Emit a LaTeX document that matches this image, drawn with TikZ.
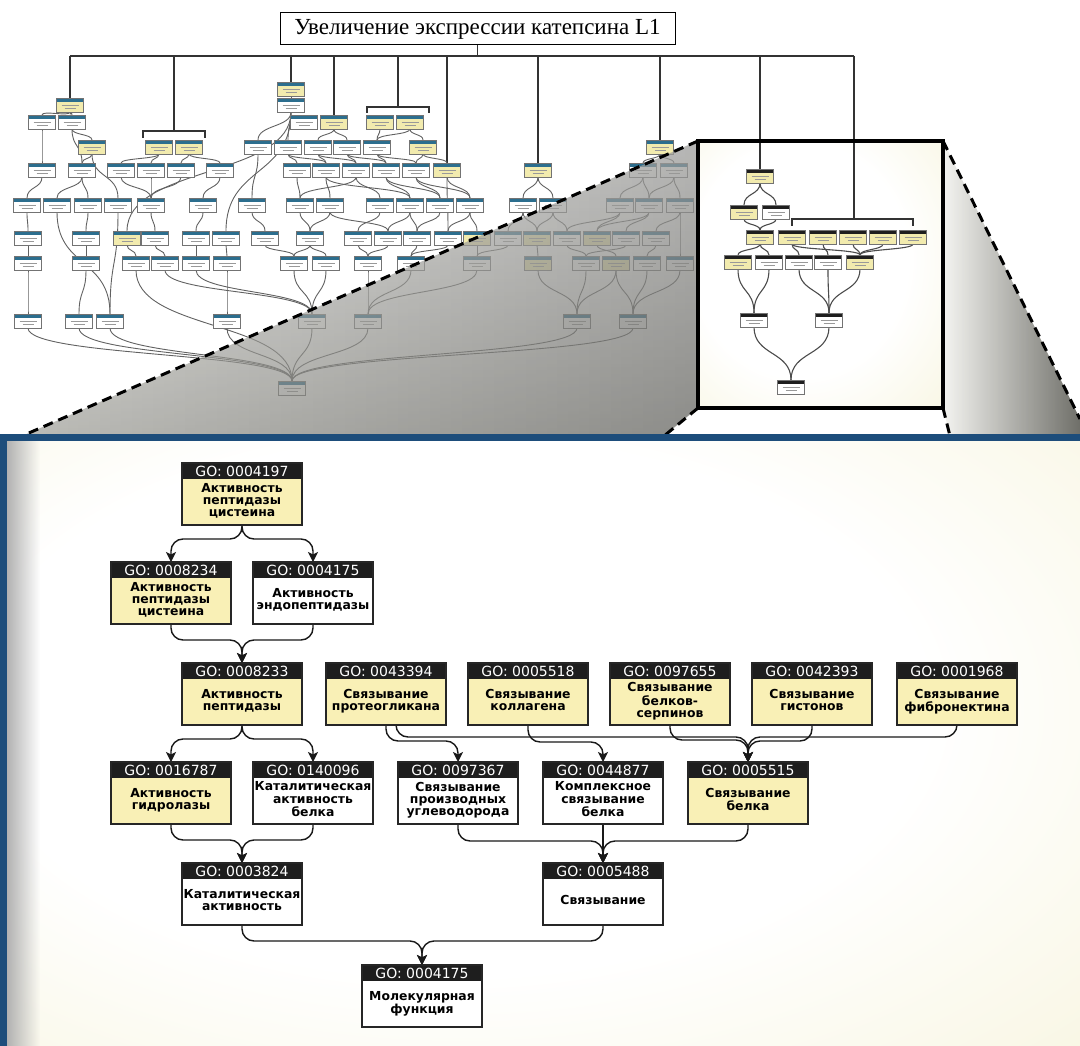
\documentclass[tikz,border=0pt]{standalone}
\usepackage{fontspec}
\setmainfont{Liberation Serif}
\newfontfamily\dvs{DejaVu Sans}
\usetikzlibrary{arrows.meta,calc,fadings}
\pgfdeclarelayer{back}
\pgfdeclarelayer{edges}
\pgfdeclarelayer{front}
\pgfsetlayers{back,edges,main,front}

\definecolor{ylw}{HTML}{F9F0B6}
\definecolor{oyl}{HTML}{F2EBAE}
\definecolor{hdr}{HTML}{1E1E1E}
\definecolor{frame}{HTML}{1D4D7B}
\definecolor{oblue}{HTML}{2C6E8E}
\definecolor{creamA}{HTML}{F9F7E6}
\definecolor{creamB}{HTML}{F0EAC6}
\definecolor{grayT}{HTML}{EDEDEA}
\definecolor{grayB}{HTML}{96968F}
\definecolor{grayRa}{HTML}{F2F2EE}
\definecolor{grayRb}{HTML}{56564F}

\pgfdeclareradialshading{panel}{\pgfpoint{-6bp}{4bp}}{color(0bp)=(white); color(22bp)=(white); color(38bp)=(creamA); color(50bp)=(creamB); color(70bp)=(creamB)}

\def\tnhc{oblue}
\newcommand\gocont[2]{\vbox to 62pt{\hsize=120pt
  \vbox to 16pt{\vss\hbox to 120pt{\hss\color{white}\dvs\fontsize{14}{14}\selectfont #1\hss}\vss}\nointerlineskip
  \vbox to 46pt{\vss\hbox to 120pt{\hss\dvs\bfseries\fontsize{12.4}{12.2}\selectfont\def\arraystretch{1}\begin{tabular}{@{}c@{}}#2\end{tabular}\hss}\vss}}}
\newcommand\gonode[6]{\node[gobox,fill=#4] (#1) at (#2,#3) {\gocont{#5}{#6}};}
\newcommand\medge[3]{\draw[mc] (#1.south) |- (#2.north |- 0,#3) -- (#2.north);}
\newcommand\medgex[4]{\draw[mc] ([xshift=#4]#1.south) |- (#2.north |- 0,#3) -- (#2.north);}
\newcommand\cedge[3][oc]{\draw[#1] let \p1=(#2.south), \p2=(#3.north), \n1={max(0.55*abs(\y1-\y2),5)} in (\p1) .. controls ($(\p1)+(0pt,-\n1)$) and ($(\p2)+(0pt,\n1)$) .. (\p2);}

\tikzset{
 tn/.style={draw=black!55, line width=0.5pt, fill=white, minimum width=27pt, minimum height=14pt, inner sep=0pt, outer sep=0pt,
  path picture={\fill[\tnhc] (path picture bounding box.north west) rectangle ([yshift=-3.8pt]path picture bounding box.north east);
   \draw[black!40, line width=0.8pt] ([xshift=5pt,yshift=-7pt]path picture bounding box.north west) -- ([xshift=-5pt,yshift=-7pt]path picture bounding box.north east);
   \draw[black!40, line width=0.8pt] ([xshift=8pt,yshift=-10.5pt]path picture bounding box.north west) -- ([xshift=-8pt,yshift=-10.5pt]path picture bounding box.north east);}},
 ty/.style={tn, fill=oyl},
 gobox/.style={draw=black!85, line width=1.5pt, minimum width=120pt, minimum height=62pt, inner sep=0pt, outer sep=0pt,
  path picture={\fill[hdr] (path picture bounding box.north west) rectangle ([yshift=-16pt]path picture bounding box.north east);}},
 mc/.style={draw=black!90, line width=1.4pt, rounded corners=12pt, -{Stealth[length=10pt,width=10pt,inset=2.5pt]}},
 oc/.style={draw=black!62, line width=0.9pt},
 ic/.style={draw=black!70, line width=1.1pt},
 bus/.style={draw=black!80, line width=1.1pt},
 dsh/.style={draw=black, line width=3pt, dash pattern=on 10pt off 6pt},
}

\begin{document}
\begin{tikzpicture}[x=1pt,y=-1pt]
\useasboundingbox (0,0) rectangle (1080,1046);

% ---------- key coordinates ----------
\coordinate (inTL) at (698,141);
\coordinate (inTR) at (943,141);
\coordinate (inBL) at (698,408);
\coordinate (inBR) at (943,408);
\coordinate (dL) at (22,436);
\coordinate (dBL) at (664,436);
\coordinate (dR) at (1080,419);
\coordinate (dRb) at (1080,436);
\coordinate (dBR) at (950,436);
\coordinate (busL) at (70,56);
\coordinate (busR) at (854,56);
\coordinate (brB) at (174,131);
\coordinate (brD) at (398,107);
\coordinate (brI) at (854,219);

% ---------- backgrounds ----------
\begin{pgfonlayer}{back}
\shade[shading=panel] (0,434) rectangle (1080,1046);
\fill[black!30, path fading=east] (7,441) rectangle (40,1046);
\shade[shading=panel] (inTL) rectangle (inBR);
\end{pgfonlayer}

% ---------- title ----------
\node[draw=black, line width=1pt, minimum width=395pt, minimum height=32pt, inner sep=0pt, font=\fontsize{23}{23}\selectfont] (title) at (477.5,29) {Увеличение экспрессии катепсина L1};

% ---------- overview nodes ----------
\node[ty] (c1) at (291,89) {};
\node[ty] (a1) at (70,105) {};
\node[tn] (c2) at (291,105) {};
\node[tn] (a2) at (42,122) {};
\node[tn] (a3) at (72,122) {};
\node[tn] (c3) at (304,122) {};
\node[ty] (c4) at (334,122) {};
\node[ty] (d1) at (380,122) {};
\node[ty] (d2) at (410,122) {};
\node[ty] (a4) at (92,147) {};
\node[ty] (b1) at (159,147) {};
\node[ty] (b2) at (189,147) {};
\node[tn] (c5) at (258,147) {};
\node[tn] (c6) at (288,147) {};
\node[tn] (c7) at (318,147) {};
\node[tn] (c8) at (347,147) {};
\node[tn] (c9) at (377,147) {};
\node[ty] (c10) at (423,147) {};
\node[ty] (f1) at (660,147) {};
\foreach \n/\x in {p1/42,p2/82,p3/121,p4/151,p5/181,p6/220,p7/297,p8/326,p9/356,p10/386,p11/416,f2/643,f3/674}
  \node[tn] (\n) at (\x,170) {};
\node[ty] (p12) at (447,170) {};
\node[ty] (e1) at (538,170) {};
\foreach \n/\x in {q1/27,q2/57,q3/88,q4/118,q5/151,q6/203,q7/252,q8/300,q9/330,q10/380,q11/410,q12/440,q13/470,e2/523,e3/553,f4/620,f5/649,f6/680}
  \node[tn] (\n) at (\x,205) {};
\foreach \n/\x in {s1/28,s2/86,s4/155,s5/196,s6/226,s7/265,s8/310,s9/358,s10/388,s11/417,s12/448,s14/508,s16/567,s18/626,s19/656}
  \node[tn] (\n) at (\x,238) {};
\foreach \n/\x in {s3/127,s13/477,s15/537,s17/597}
  \node[ty] (\n) at (\x,238) {};
\foreach \n/\x in {t1/28,t2/86,t3/136,t4/165,t5/196,t6/227,t7/294,t8/326,t9/368,t10/411,t11/477,t13/586,t15/647,t16/680}
  \node[tn] (\n) at (\x,263) {};
\foreach \n/\x in {t12/538,t14/616}
  \node[ty] (\n) at (\x,263) {};
\foreach \n/\x in {u1/28,u2/79,u3/110,u4/227,u5/312,u6/368,u7/577,u8/633}
  \node[tn] (\n) at (\x,321) {};
\node[tn] (z) at (292,388) {};

% ---------- inset nodes ----------
\begin{scope}
\def\tnhc{hdr}
\node[ty] (I1) at (760,176) {};
\node[ty] (I2) at (744,212) {};
\node[tn] (I3) at (776,212) {};
\foreach \n/\x in {I4/760,I5/792,I6/823,I7/853,I8/883,I9/913}
  \node[ty] (\n) at (\x,237) {};
\node[ty] (I10) at (738,262) {};
\node[tn] (I11) at (769,262) {};
\node[tn] (I12) at (799,262) {};
\node[tn] (I13) at (828,262) {};
\node[ty] (I14) at (860,262) {};
\node[tn] (I15) at (754,320) {};
\node[tn] (I16) at (829,320) {};
\node[tn] (I17) at (791,387) {};
\end{scope}

% ---------- main nodes ----------
\gonode{n4197}{242}{494}{ylw}{GO: 0004197}{Активность\\пептидазы\\цистеина}
\gonode{n8234}{171}{593}{ylw}{GO: 0008234}{Активность\\пептидазы\\цистеина}
\gonode{n4175a}{313}{593}{white}{GO: 0004175}{Активность\\эндопептидазы}
\gonode{n8233}{242}{694}{ylw}{GO: 0008233}{Активность\\пептидазы}
\gonode{n43394}{386}{694}{ylw}{GO: 0043394}{Связывание\\протеогликана}
\gonode{n5518}{528}{694}{ylw}{GO: 0005518}{Связывание\\коллагена}
\gonode{n97655}{670}{694}{ylw}{GO: 0097655}{Связывание\\белков-\\серпинов}
\gonode{n42393}{812}{694}{ylw}{GO: 0042393}{Связывание\\гистонов}
\gonode{n1968}{957}{694}{ylw}{GO: 0001968}{Связывание\\фибронектина}
\gonode{n16787}{171}{793}{ylw}{GO: 0016787}{Активность\\гидролазы}
\gonode{n140096}{313}{793}{white}{GO: 0140096}{Каталитическая\\активность\\белка}
\gonode{n97367}{458}{793}{white}{GO: 0097367}{Связывание\\производных\\углеводорода}
\gonode{n44877}{603}{793}{white}{GO: 0044877}{Комплексное\\связывание\\белка}
\gonode{n5515}{748}{793}{ylw}{GO: 0005515}{Связывание\\белка}
\gonode{n3824}{242}{894}{white}{GO: 0003824}{Каталитическая\\активность}
\gonode{n5488}{603}{894}{white}{GO: 0005488}{Связывание}
\gonode{nMF}{422}{996}{white}{GO: 0004175}{Молекулярная\\функция}

% ---------- edges ----------
\begin{pgfonlayer}{edges}
% bus
\draw[bus] (title.south) -- (title.south |- busL);
\draw[bus] (busL) -- (busR);
\draw[bus] (a1.north |- busL) -- (a1.north);
\draw[bus] (brB |- busL) -- (brB);
\draw[bus] (143,138) |- (brB) -| (205,138);
\draw[bus] (c1.north |- busL) -- (c1.north);
\draw[bus] (c4.north |- busL) -- (c4.north);
\draw[bus] (brD |- busL) -- (brD);
\draw[bus] (367,113) |- (brD) -| (429,113);
\draw[bus] (p12.north |- busL) -- (p12.north);
\draw[bus] (e1.north |- busL) -- (e1.north);
\draw[bus] (f1.north |- busL) -- (f1.north);
\draw[bus] (I1.north |- busL) -- (I1.north);
\draw[bus] (brI |- busL) -- (brI);
\draw[bus] (I5.north |- 0,226) |- (brI) -| (I9.north |- 0,226);

% overview connectors
\foreach \a/\b in {a1/a2,a1/a3,a2/p1,a3/a4,a3/p2,a4/p2,a4/q4,
  p1/q1,p2/q2,p2/q3,q1/s1,q3/s2,q2/u3,q4/u3,s1/t1,s2/t2,t1/u1,t2/u2,
  b1/p3,b1/p4,b2/p5,b2/p6,p3/q5,p4/q5,p5/q5,p6/q6,q5/s4,q6/s5,s3/t3,s4/t4,s5/t5,s6/t6,t6/u4,
  c1/c2,c2/c5,c2/c6,c2/s6,c2/s3,c4/c7,c4/c8,d1/c9,d2/c9,d2/c10,c5/q7,c6/p7,c6/p8,c7/p8,c7/p9,c8/p9,c8/p10,c9/p10,c9/p11,c10/p11,c10/p12,
  p7/q8,p8/q9,p8/q11,p9/q8,p9/q10,p10/q11,p10/q12,p11/q12,p11/q13,p12/q13,p12/s12,
  q7/s7,q8/s8,q9/s8,q9/s10,q10/s9,q11/s10,q11/s11,q12/s11,q13/s12,q13/s13,
  s7/t7,s8/t7,s8/t8,s9/t9,s10/t9,s11/t10,s12/t10,s13/t11,s14/t11,
  t3/z,t4/u5,t5/u5,t7/u5,t8/u5,t9/u6,t10/u6,t11/u6,
  u1/z,u2/z,u3/z,u4/z,u5/z,u6/z,u7/z,u8/z,
  e1/e2,e1/e3,e2/s14,e2/s15,e3/s15,e3/s16,s15/t12,s16/t13,t12/u7,
  f1/f2,f1/f3,f2/f4,f2/f5,f3/f5,f3/f6,f4/s16,f4/s17,f5/s17,f5/s18,f6/s19,f6/t16,s17/t14,s18/t13,s19/t15,t13/u7,t14/u7,t14/u8,t15/u8,t16/u8}
  {\cedge{\a}{\b}}

% inset connectors
\foreach \a/\b in {I1/I2,I1/I3,I2/I4,I3/I4,I4/I10,I4/I11,I5/I12,I5/I14,I6/I13,I7/I14,I8/I14,I9/I14,
  I10/I15,I11/I15,I12/I16,I13/I16,I14/I16,I15/I17,I16/I17}
  {\cedge[ic]{\a}{\b}}

% main connectors
\medge{n4197}{n8234}{539}
\medge{n4197}{n4175a}{539}
\medge{n8234}{n8233}{640}
\medge{n4175a}{n8233}{640}
\medge{n8233}{n16787}{739}
\medge{n8233}{n140096}{739}
\medge{n43394}{n97367}{741}
\medgex{n43394}{n5515}{737}{10pt}
\medge{n5518}{n44877}{742}
\medge{n97655}{n5515}{740}
\medge{n42393}{n5515}{741}
\medge{n1968}{n5515}{737}
\medge{n16787}{n3824}{840}
\medge{n140096}{n3824}{840}
\medge{n97367}{n5488}{841}
\draw[mc] (n44877.south) -- (n5488.north);
\medge{n5515}{n5488}{841}
\medge{n3824}{nMF}{941}
\medge{n5488}{nMF}{941}
\end{pgfonlayer}

% ---------- projection, inset frame, blue frame ----------
\begin{pgfonlayer}{front}
\shade[top color=grayT, bottom color=grayB, fill opacity=0.65] (inTL) -- (dL) -- (dBL) -- (inBL) -- cycle;
\fill[black, fill opacity=0.25, path fading=west] (inTL) -- (dL) -- (dBL) -- (inBL) -- cycle;
\shade[left color=grayRa, right color=grayRb, fill opacity=0.85] (inTR) -- (dR) -- (dRb) -- (dBR) -- (inBR) -- cycle;
\draw[dsh] (inTL) -- (dL);
\draw[dsh] (inBL) -- (dBL);
\draw[dsh] (inTR) -- (dR);
\draw[dsh] (inBR) -- (dBR);
\draw[line width=4pt, black] (inTL) rectangle (inBR);
\fill[frame] (0,434) rectangle (1080,441);
\fill[frame] (0,434) rectangle (7,1046);
\end{pgfonlayer}
\end{tikzpicture}
\end{document}
